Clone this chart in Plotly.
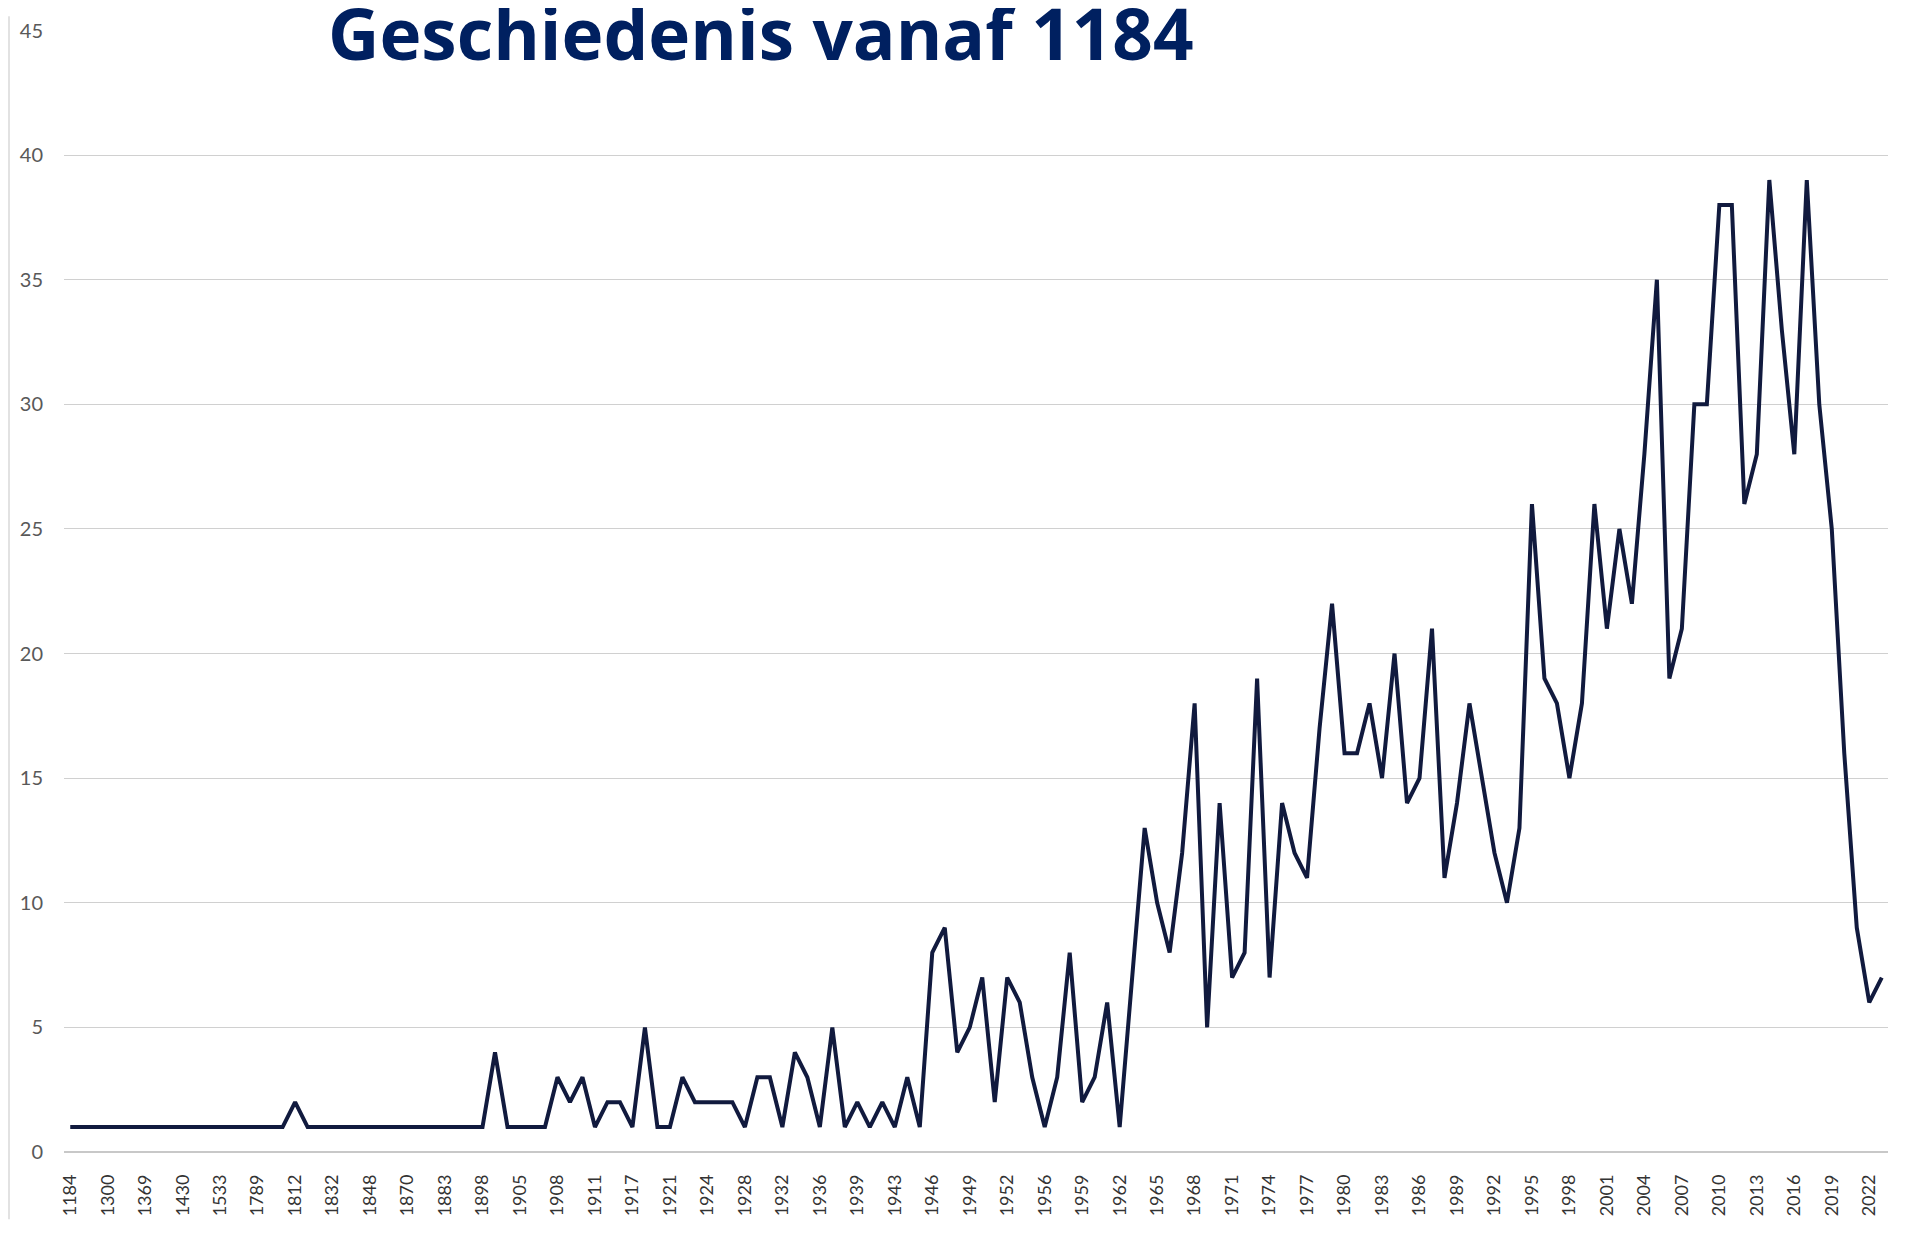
import plotly.graph_objects as go

years = [
    "1184", "1200", "1250", "1300", "1322", "1349", "1369", "1395", "1421", "1430",
    "1470", "1510", "1533", "1625", "1703", "1789", "1800", "1808", "1812", "1819",
    "1825", "1832", "1836", "1844", "1848", "1856", "1864", "1870", "1875", "1880",
    "1883", "1888", "1894", "1898", "1899", "1902", "1905", "1906", "1907", "1908",
    "1909", "1910", "1911", "1913", "1915", "1917", "1919", "1920", "1921", "1922",
    "1923", "1924", "1925", "1926", "1928", "1929", "1930", "1932", "1933", "1934",
    "1936", "1937", "1938", "1939", "1940", "1942", "1943", "1944", "1945", "1946",
    "1947", "1948", "1949", "1950", "1951", "1952", "1953", "1954", "1956", "1957",
    "1958", "1959", "1960", "1961", "1962",
] + [str(y) for y in range(1963, 2024)]

counts = [
    1, 1, 1, 1, 1, 1, 1, 1, 1, 1,
    1, 1, 1, 1, 1, 1, 1, 1, 2, 1,
    1, 1, 1, 1, 1, 1, 1, 1, 1, 1,
    1, 1, 1, 1, 4, 1, 1, 1, 1, 3,
    2, 3, 1, 2, 2, 1, 5, 1, 1, 3,
    2, 2, 2, 2, 1, 3, 3, 1, 4, 3,
    1, 5, 1, 2, 1, 2, 1, 3, 1, 8,
    9, 4, 5, 7, 2, 7, 6, 3, 1, 3,
    8, 2, 3, 6, 1, 7, 13, 10, 8, 12,
    18, 5, 14, 7, 8, 19, 7, 14, 12, 11,
    17, 22, 16, 16, 18, 15, 20, 14, 15, 21,
    11, 14, 18, 15, 12, 10, 13, 26, 19, 18,
    15, 18, 26, 21, 25, 22, 28, 35, 19, 21,
    30, 30, 38, 38, 26, 28, 39, 33, 28, 39,
    30, 25, 16, 9, 6, 7,
]

tick_years = years[::3]
y_ticks = list(range(0, 46, 5))
title_text = "Geschiedenis vanaf 1184"

# page body has an 8px margin; the figure is sized to fit inside the window
OFF = 8
W, H = 1905 - 2 * OFF, 1233 - 2 * OFF
ML, MT = 64 - OFF, 22 - OFF
PLOT_R, PLOT_B = 1888 - OFF, 1157 - OFF
MR, MB = W - PLOT_R, H - PLOT_B
PW, PH = W - ML - MR, H - MT - MB


def px_x(px):
    return (px - OFF - ML) / PW


def px_y(py):
    return 1 - (py - OFF - MT) / PH


fig = go.Figure()
fig.add_trace(go.Scatter(
    x=years, y=counts, mode="lines",
    line=dict(color="#111a3e", width=4),
    hoverinfo="x+y", showlegend=False,
))

fig.update_layout(
    width=W, height=H,
    margin=dict(l=ML, r=MR, t=MT, b=MB),
    paper_bgcolor="white", plot_bgcolor="white",
    font=dict(family="Lato", color="#404040"),
    xaxis=dict(
        type="category", range=[-0.5, len(years) - 0.5],
        tickmode="array", tickvals=tick_years, ticktext=tick_years,
        tickangle=-90, tickfont=dict(size=18, color="#333333"),
        showgrid=False, showline=False, ticks="", ticklabelstandoff=18,
        fixedrange=True,
    ),
    yaxis=dict(
        range=[0, 45.02], tickmode="array", tickvals=y_ticks,
        tickfont=dict(size=20, color="#595959"),
        showgrid=True, gridcolor="#d0d0d0", gridwidth=1.3,
        zeroline=True, zerolinecolor="#c8c8c8", zerolinewidth=1.8,
        showline=False, ticks="", ticklabelstandoff=20,
        fixedrange=True,
    ),
)

# white box behind title hiding the top gridline
fig.add_shape(type="rect", xref="paper", yref="paper",
              x0=px_x(310), x1=px_x(1537), y0=px_y(38), y1=px_y(12),
              fillcolor="white", line=dict(width=0), layer="above")
# left chart-area border
fig.add_shape(type="line", xref="paper", yref="paper",
              x0=px_x(9), x1=px_x(9), y0=px_y(1225), y1=px_y(8),
              line=dict(color="#d9d9d9", width=1.5), layer="above")

fig.add_annotation(
    text="<b>" + title_text + "</b>", xref="paper", yref="paper",
    x=px_x(326), y=px_y(25), xanchor="left", yanchor="middle",
    showarrow=False, font=dict(family="Open Sans", size=71, color="#002060"),
)

fig.write_html("out.html")
